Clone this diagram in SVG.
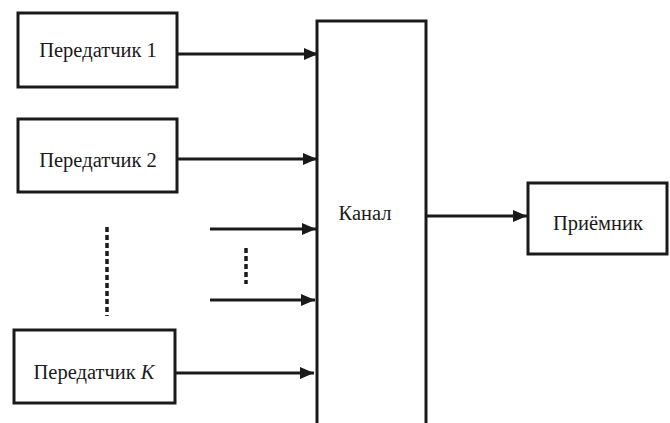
<svg xmlns="http://www.w3.org/2000/svg" width="670" height="423" viewBox="0 0 670 423">
<defs>
<style>
.box{fill:#fff;stroke:#1a1a1a;stroke-width:3}
.ln{stroke:#1a1a1a;stroke-width:3;fill:none}
.dot{stroke:#1a1a1a;stroke-width:3.5;stroke-dasharray:5 3;fill:none}
text{font-family:"Liberation Serif","DejaVu Serif",serif;font-size:20.5px;fill:#1a1a1a;text-anchor:middle}
</style>
<marker id="ah" markerWidth="14" markerHeight="12" refX="14" refY="6" orient="auto" markerUnits="userSpaceOnUse">
<path d="M0,0 L14,6 L0,12 Z" fill="#1a1a1a"/>
</marker>
</defs>
<rect width="670" height="423" fill="#fff"/>
<g id="connectors">
<line class="ln" x1="178" y1="54" x2="318" y2="54" marker-end="url(#ah)"/>
<line class="ln" x1="178" y1="159" x2="317" y2="159" marker-end="url(#ah)"/>
<line class="ln" x1="210" y1="229" x2="316" y2="229" marker-end="url(#ah)"/>
<line class="ln" x1="210" y1="300" x2="315" y2="300" marker-end="url(#ah)"/>
<line class="ln" x1="175" y1="373" x2="314" y2="373" marker-end="url(#ah)"/>
<line class="ln" x1="425" y1="216" x2="527" y2="216" marker-end="url(#ah)"/>
<line class="dot" x1="107" y1="227" x2="107" y2="316"/>
<line class="dot" x1="246" y1="248" x2="246" y2="284"/>
</g>
<g id="tx1"><rect class="box" x="18" y="13" width="159" height="74"/><text x="98" y="57">Передатчик 1</text></g>
<g id="tx2"><rect class="box" x="18" y="119" width="159" height="73"/><text x="98" y="167">Передатчик 2</text></g>
<g id="txK"><rect class="box" x="14" y="330" width="161" height="73"/><text x="94" y="379">Передатчик <tspan font-style="italic">K</tspan></text></g>
<g id="channel"><rect class="box" x="317" y="21" width="109" height="410"/><text x="365" y="220">Канал</text></g>
<g id="rx"><rect class="box" x="528" y="183" width="139" height="71"/><text x="598" y="230">Приёмник</text></g>
</svg>
